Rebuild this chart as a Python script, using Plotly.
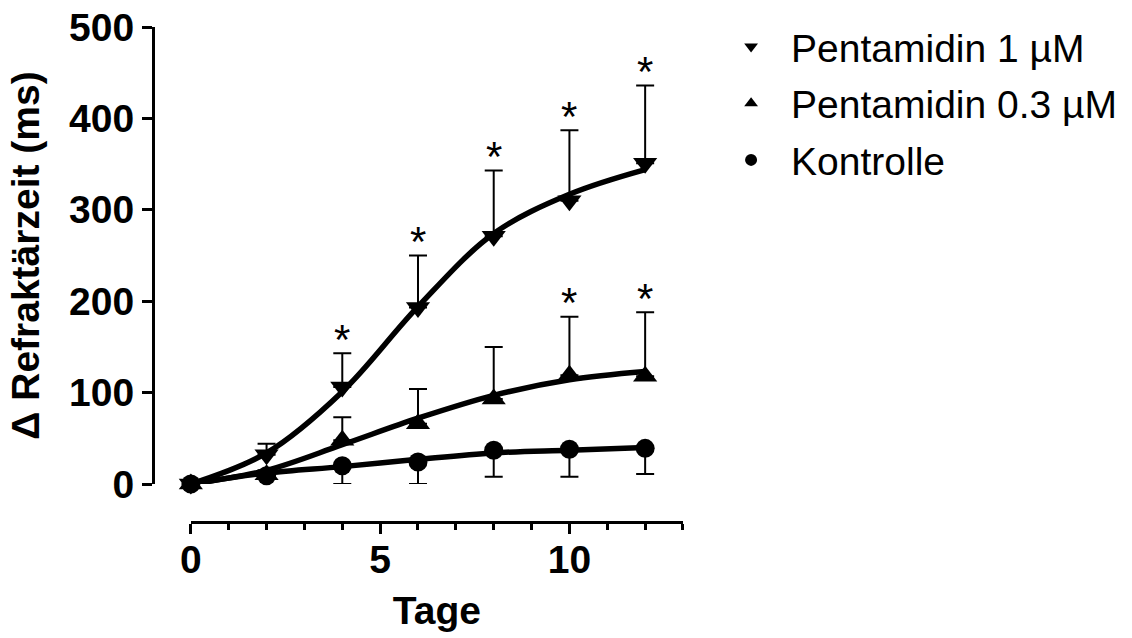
import plotly.graph_objects as go

# ---- data ----
days = [0, 2, 4, 6, 8, 10, 12]

p1_mean = [0, 32, 106, 193, 271, 310, 351]
p1_err = [0, 12, 37, 57, 72, 77, 85]
p1_sig = [False, False, True, True, True, True, True]

p03_mean = [0, 10, 48, 66, 93, 119, 118]
p03_err = [0, 5, 25, 38, 57, 64, 70]
p03_sig = [False, False, False, False, False, True, True]

ctrl_mean = [0, 9, 20, 24, 37, 38, 39]
ctrl_err = [0, 3, 20, 24, 29, 30, 28]

fit_days = [0, 2, 4, 6, 8, 10, 12]
p1_fit = [0, 34, 101, 194, 274, 317, 344]
p03_fit = [0, 15, 43, 72, 97, 114, 123]
ctrl_fit = [0, 12, 19, 27, 34, 37, 40]

x_ticks = [0, 5, 10]
y_ticks = [0, 100, 200, 300, 400, 500]

names = ["Pentamidin 1 µM", "Pentamidin 0.3 µM", "Kontrolle"]

FONT = "Liberation Sans, Arial, sans-serif"
BLACK = "black"

fig = go.Figure()

# fitted curves
for fit in (p1_fit, p03_fit, ctrl_fit):
    fig.add_trace(go.Scatter(
        x=fit_days, y=fit, mode="lines",
        line=dict(color=BLACK, width=5.5, shape="spline", smoothing=1.0),
        showlegend=False, hoverinfo="skip", cliponaxis=False))

# data points with error bars
fig.add_trace(go.Scatter(
    x=days, y=p1_mean, mode="markers", name=names[0], legendgroup="a",
    marker=dict(symbol="triangle-down", size=21, color=BLACK),
    error_y=dict(type="data", symmetric=False, array=p1_err,
                 arrayminus=[0] * len(days), color=BLACK, thickness=2, width=9),
    cliponaxis=False))
fig.add_trace(go.Scatter(
    x=days, y=p03_mean, mode="markers", name=names[1], legendgroup="b",
    marker=dict(symbol="triangle-up", size=21, color=BLACK),
    error_y=dict(type="data", symmetric=False, array=p03_err,
                 arrayminus=[0] * len(days), color=BLACK, thickness=2, width=9),
    cliponaxis=False))
fig.add_trace(go.Scatter(
    x=days, y=ctrl_mean, mode="markers", name=names[2], legendgroup="c",
    marker=dict(symbol="circle", size=19, color=BLACK),
    error_y=dict(type="data", symmetric=False, array=[0] * len(days),
                 arrayminus=ctrl_err, color=BLACK, thickness=2, width=9),
    cliponaxis=False))

# significance asterisks above the error bars
for mean, err, sig in ((p1_mean, p1_err, p1_sig), (p03_mean, p03_err, p03_sig)):
    for d, m, e, s in zip(days, mean, err, sig):
        if s:
            fig.add_annotation(
                x=d, y=m + e, text="*", showarrow=False,
                xanchor="center", yanchor="middle", yshift=14,
                font=dict(family=FONT, size=42, color=BLACK))

fig.update_layout(
    width=1132, height=638,
    margin=dict(l=153, r=449, t=27, b=116, autoexpand=False),
    paper_bgcolor="white", plot_bgcolor="white",
    font=dict(family=FONT, color=BLACK),
    showlegend=True,
    legend=dict(
        x=1.053, xanchor="left", y=1.025, yanchor="top",
        font=dict(family=FONT, size=39, color=BLACK),
        itemsizing="constant", itemwidth=70,
        traceorder="grouped", tracegroupgap=3,
        bgcolor="rgba(0,0,0,0)"),
    xaxis=dict(
        domain=[1 / 14, 1], range=[0, 13], anchor="free", position=0,
        showgrid=False, zeroline=False, showline=True, linecolor=BLACK, linewidth=3,
        tickmode="array", tickvals=x_ticks, ticks="outside", ticklen=10,
        tickwidth=3, tickcolor=BLACK, ticklabelstandoff=-8,
        tickfont=dict(family=FONT, size=39, color=BLACK, weight="bold"),
        minor=dict(dtick=1, tick0=0, ticks="outside", ticklen=6, tickwidth=3,
                   tickcolor=BLACK, showgrid=False),
        title=dict(text="Tage", standoff=16,
                   font=dict(family=FONT, size=39, color=BLACK, weight="bold"))),
    yaxis=dict(
        domain=[38 / 495, 1], range=[0, 500], anchor="free", position=0,
        showgrid=False, zeroline=False, showline=True, linecolor=BLACK, linewidth=3,
        tickmode="array", tickvals=y_ticks, ticks="outside", ticklen=10,
        tickwidth=3, tickcolor=BLACK,
        tickfont=dict(family=FONT, size=39, color=BLACK, weight="bold"),
        title=dict(text="Δ Refraktärzeit (ms)", standoff=16,
                   font=dict(family=FONT, size=39, color=BLACK, weight="bold"))),
)

fig.write_html("out.html")
